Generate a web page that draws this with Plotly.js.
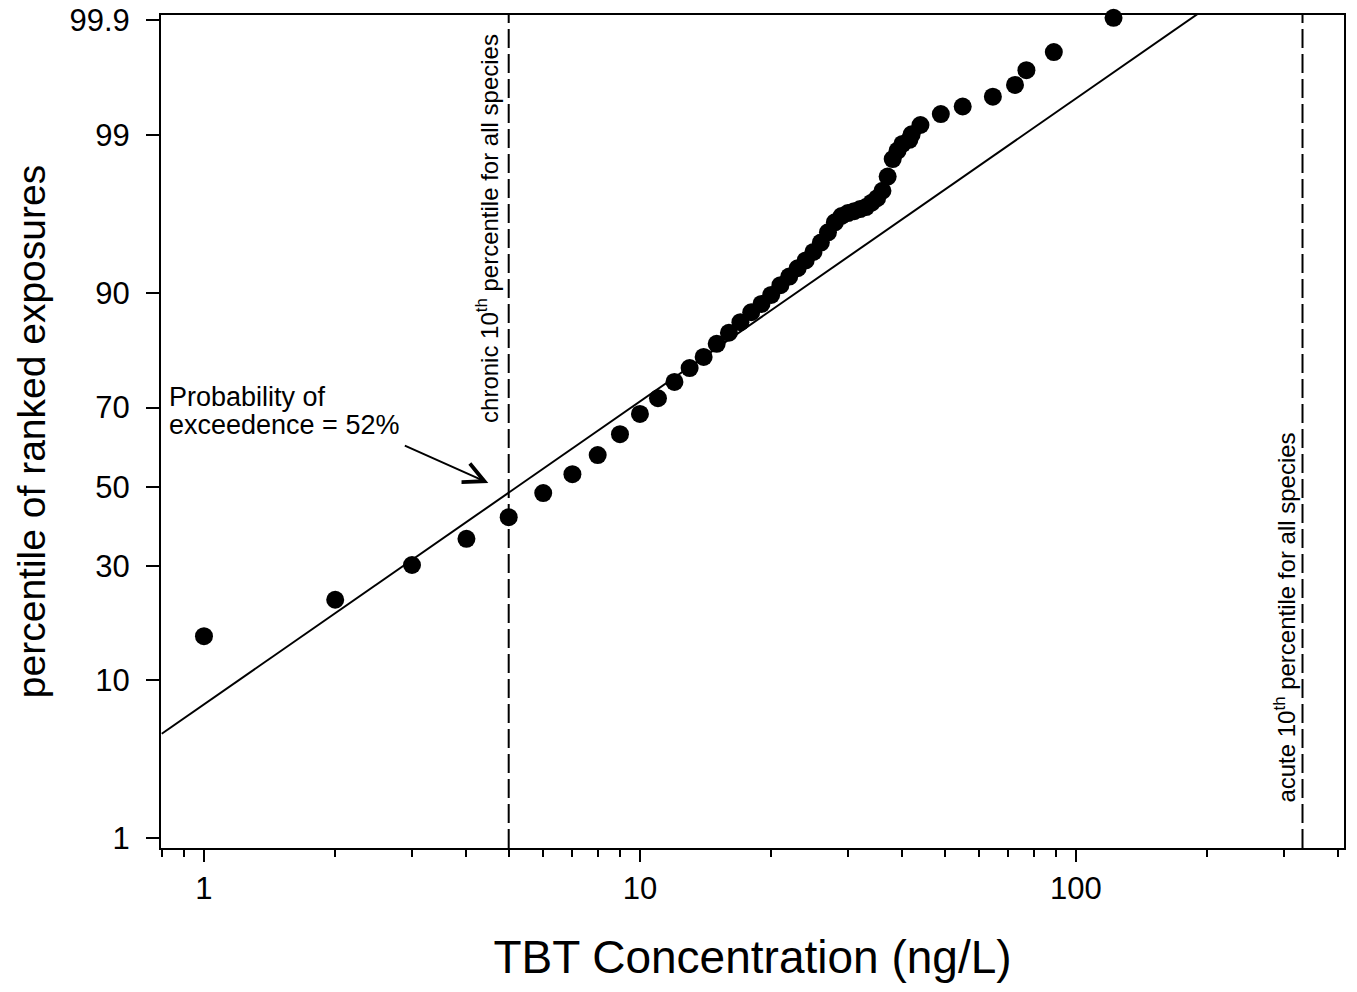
<!DOCTYPE html>
<html>
<head>
<meta charset="utf-8">
<script src="https://cdn.plot.ly/plotly-3.0.1.min.js"></script>
<style>
  html, body { margin: 0; padding: 0; background: #ffffff; }
  #chart { width: 1357px; height: 992px; }
</style>
</head>
<body>
<div id="chart"></div>
<script>
// ---- data ----
const concentration = [1, 2, 3, 4, 5, 6, 7, 8, 9, 10,
  11, 12, 13, 14, 15, 16, 17, 18, 19, 20,
  21, 22, 23, 24, 25, 26, 27, 28, 29, 30,
  31, 32, 33, 34, 35, 36, 37, 38, 39, 40,
  41.5, 42, 44, 49, 55, 64.5, 72.5, 77, 89, 122];
const percentile = [16.1, 22.7, 30.2, 36.5, 42.0, 48.3, 53.3, 58.3, 63.6, 68.5,
  72.1, 75.6, 78.4, 80.5, 82.8, 84.6, 86.2, 87.6, 88.7, 89.8,
  90.9, 91.8, 92.6, 93.3, 94.0, 94.7, 95.4, 96.0, 96.35, 96.5,
  96.6, 96.7, 96.8, 97.0, 97.2, 97.5, 98.0, 98.5, 98.7, 98.84,
  98.92, 99.02, 99.17, 99.32, 99.41, 99.51, 99.61, 99.71, 99.80, 99.905];

// fitted log-normal line (two end points, percentiles)
const fitConc = [0.8, 200];
const fitPct = [5.09, 99.925];

// guideline concentrations (ng/L)
const chronicConc = [5];
const acuteConc = [331];

// axis ticks
const yTickPct = [1, 10, 30, 50, 70, 90, 99, 99.9];
const yTickText = ['1', '10', '30', '50', '70', '90', '99', '99.9'];
const xTickVals = [1, 10, 100];
const xTickText = ['1', '10', '100'];
const xMinorVals = [0.8, 0.9, 2, 3, 4, 5, 6, 7, 8, 9, 20, 30, 40, 50, 60, 70, 80, 90, 200, 300, 400];

// ---- normal probability (probit) transform ----
function probit(p) {
  const a = [-3.969683028665376e+01, 2.209460984245205e+02, -2.759285104469687e+02, 1.383577518672690e+02, -3.066479806614716e+01, 2.506628277459239e+00];
  const b = [-5.447609879822406e+01, 1.615858368580409e+02, -1.556989798598866e+02, 6.680131188771972e+01, -1.328068155288572e+01];
  const c = [-7.784894002430293e-03, -3.223964580411365e-01, -2.400758277161838e+00, -2.549732539343734e+00, 4.374664141464968e+00, 2.938163982698783e+00];
  const d = [7.784695709041462e-03, 3.224671290700398e-01, 2.445134137142996e+00, 3.754408661907416e+00];
  const plow = 0.02425, phigh = 1 - plow;
  let q, r;
  if (p < plow) {
    q = Math.sqrt(-2 * Math.log(p));
    return (((((c[0]*q+c[1])*q+c[2])*q+c[3])*q+c[4])*q+c[5]) / ((((d[0]*q+d[1])*q+d[2])*q+d[3])*q+1);
  }
  if (p > phigh) {
    q = Math.sqrt(-2 * Math.log(1 - p));
    return -(((((c[0]*q+c[1])*q+c[2])*q+c[3])*q+c[4])*q+c[5]) / ((((d[0]*q+d[1])*q+d[2])*q+d[3])*q+1);
  }
  q = p - 0.5; r = q * q;
  return (((((a[0]*r+a[1])*r+a[2])*r+a[3])*r+a[4])*r+a[5])*q / (((((b[0]*r+b[1])*r+b[2])*r+b[3])*r+b[4])*r+1);
}
const z = pct => probit(pct / 100);

const yRange = [-2.393, 3.124];
const FONT = '"Liberation Sans", Arial, Helvetica, sans-serif';

const traces = [
  { // fitted line
    x: fitConc, y: fitPct.map(z), mode: 'lines', type: 'scatter',
    line: { color: '#000', width: 2 }, hoverinfo: 'skip'
  },
  { // chronic guideline
    x: [chronicConc[0], chronicConc[0]], y: yRange, mode: 'lines', type: 'scatter',
    line: { color: '#000', width: 2, dash: '19px,6px' }, hoverinfo: 'skip'
  },
  { // acute guideline
    x: [acuteConc[0], acuteConc[0]], y: yRange, mode: 'lines', type: 'scatter',
    line: { color: '#000', width: 2, dash: '19px,6px' }, hoverinfo: 'skip'
  },
  { // ranked exposures
    x: concentration, y: percentile.map(z), mode: 'markers', type: 'scatter',
    marker: { color: '#000', size: 18 }, cliponaxis: false
  }
];

const layout = {
  width: 1357, height: 992,
  margin: { l: 161, r: 13, t: 15, b: 144 },
  paper_bgcolor: '#fff', plot_bgcolor: '#fff',
  showlegend: false,
  font: { family: FONT, color: '#000' },
  xaxis: {
    type: 'log', range: [-0.0986, 2.615],
    tickvals: xTickVals, ticktext: xTickText,
    ticks: 'outside', ticklen: 12, tickwidth: 2, tickcolor: '#000',
    showline: true, linewidth: 2, linecolor: '#000', mirror: true,
    showgrid: false, zeroline: false,
    tickfont: { size: 31, family: FONT },
    minor: { tickvals: xMinorVals, ticks: 'outside', ticklen: 7, tickwidth: 2, tickcolor: '#000', showgrid: false },
    title: { text: 'TBT Concentration (ng/L)', font: { size: 46, family: FONT }, standoff: 36 }
  },
  yaxis: {
    range: yRange,
    tickvals: yTickPct.map(z), ticktext: yTickText,
    ticks: 'outside', ticklen: 13, tickwidth: 2, tickcolor: '#000',
    showline: true, linewidth: 2, linecolor: '#000', mirror: true,
    showgrid: false, zeroline: false,
    tickfont: { size: 31, family: FONT },
    ticklabelstandoff: 10,
    title: { text: 'percentile of ranked exposures', font: { size: 39, family: FONT }, standoff: 12 }
  },
  annotations: [
    {
      xref: 'x', yref: 'paper', x: Math.log10(chronicConc[0]), y: 0.744,
      xshift: -21, textangle: -90, showarrow: false,
      text: 'chronic 10<sup>th</sup> percentile for all species',
      font: { size: 24, family: FONT }, xanchor: 'center', yanchor: 'middle'
    },
    {
      xref: 'x', yref: 'paper', x: Math.log10(acuteConc[0]), y: 0.276,
      xshift: -17, textangle: -90, showarrow: false,
      text: 'acute 10<sup>th</sup> percentile for all species',
      font: { size: 24, family: FONT }, xanchor: 'center', yanchor: 'middle'
    },
    {
      xref: 'paper', yref: 'paper', x: 0.005, y: 0.5414, xanchor: 'left', yanchor: 'middle',
      showarrow: false, text: 'Probability of', font: { size: 27, family: FONT }
    },
    {
      xref: 'paper', yref: 'paper', x: 0.005, y: 0.5078, xanchor: 'left', yanchor: 'middle',
      showarrow: false, text: 'exceedence = 52%', font: { size: 27, family: FONT }
    },
    {
      xref: 'x', yref: 'y', x: Math.log10(4.49), y: 0.025, text: '',
      showarrow: true, arrowhead: 5, arrowsize: 2, arrowwidth: 2, arrowcolor: '#000',
      axref: 'pixel', ayref: 'pixel', ax: -85, ay: -38, standoff: 0
    }
  ]
};

Plotly.newPlot('chart', traces, layout, { displayModeBar: false, staticPlot: true });
</script>
</body>
</html>
